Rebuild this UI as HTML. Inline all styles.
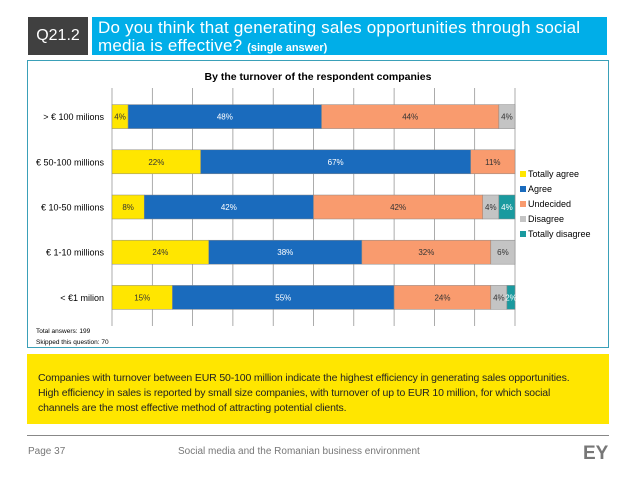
<!DOCTYPE html>
<html><head><meta charset="utf-8">
<style>
body{margin:0;width:638px;height:479px;background:#fff;font-family:"Liberation Sans",sans-serif;position:relative;overflow:hidden}
.abs{position:absolute}
</style></head>
<body>
<div class="abs" style="left:28px;top:17px;width:60px;height:38px;background:#404040;color:#fff;font-size:16px;line-height:38px;text-align:center">Q21.2</div>
<div class="abs" style="left:92px;top:17px;width:515px;height:38px;background:#00aee8;color:#fff;font-size:17px;line-height:18px;padding-left:6px;box-sizing:border-box;padding-top:2px;letter-spacing:0.2px">Do you think that generating sales opportunities through social media is effective? <b style="font-size:11px;letter-spacing:0">(single answer)</b></div>
<div class="abs" style="left:27px;top:60px;width:582px;height:288px;border:1px solid #3aa0b8;box-sizing:border-box"></div>
<svg class="abs" style="left:0;top:0" width="638" height="479" id="chart">
<text x="318" y="80" text-anchor="middle" font-size="10.5" font-weight="bold">By the turnover of the respondent companies</text>
<text x="36" y="333" font-size="6.5">Total answers: 199</text>
<text x="36" y="344" font-size="6.5">Skipped this question: 70</text>
</svg>
<div class="abs" style="left:27px;top:354px;width:582px;height:70px;background:#ffe600;font-size:10.5px;line-height:15px;padding:17px 0 0 11px;box-sizing:border-box;color:#222;letter-spacing:-0.15px">Companies with turnover between EUR 50-100 million indicate the highest efficiency in generating sales opportunities.<br>High efficiency in sales is reported by small size companies, with turnover of up to EUR 10 million, for which social<br>channels are the most effective method of attracting potential clients.</div>
<div class="abs" style="left:27px;top:435px;width:582px;height:1px;background:#888"></div>
<div class="abs" style="left:28px;top:446px;font-size:10px;color:#777">Page 37</div>
<div class="abs" style="left:178px;top:446px;font-size:10px;color:#777">Social media and the Romanian business environment</div>
<div class="abs" style="left:583px;top:443px;font-size:19px;font-weight:bold;color:#777">EY</div>
<script>
const categories=["> € 100 milions","€ 50-100 millions","€ 10-50 millions","€ 1-10 millions","< €1 milion"];
const seriesNames=["Totally agree","Agree","Undecided","Disagree","Totally disagree"];
const totallyAgree=[4,22,8,24,15];
const agree=[48,67,42,38,55];
const undecided=[44,11,42,32,24];
const disagree=[4,0,4,6,4];
const totallyDisagree=[0,0,4,0,2];
const series=[totallyAgree,agree,undecided,disagree,totallyDisagree];
const colors=["#ffe600","#1a6bbd","#f99b6e","#c4c4c4","#1a9a9f"];
const textColors=["#333","#fff","#333","#333","#fff"];
const svg=document.getElementById('chart');
const NS="http://www.w3.org/2000/svg";
const X0=112,X1=515,Y0=94,Y1=320;
const xs=v=>X0+(X1-X0)*v/100;
const band=(Y1-Y0)/categories.length;
const yc=i=>Y0+band*(i+0.5);
function mk(t,a){const e=document.createElementNS(NS,t);for(const k in a)e.setAttribute(k,a[k]);svg.appendChild(e);return e;}
for(let g=0;g<=10;g++){const l=mk('line',{x1:xs(g*10),x2:xs(g*10),y1:Y0-6,y2:Y1+6,stroke:'#888','stroke-width':0.7});

}
categories.forEach((c,i)=>{
 const t=mk('text',{x:X0-8,y:yc(i)+3.5,'text-anchor':'end','font-size':9});t.textContent=c;
 
 
 let acc=0;
 series.forEach((s,k)=>{const v=s[i];if(!v)return;
  const r=mk('rect',{x:xs(acc),y:yc(i)-12,width:xs(acc+v)-xs(acc),height:24,fill:colors[k],stroke:'#888','stroke-width':0.5});
  
  
  const lb=mk('text',{x:(xs(acc)+xs(acc+v))/2,y:yc(i)+3,'text-anchor':'middle','font-size':8,fill:textColors[k]});lb.textContent=v+'%';
  
  
  acc+=v;});
});
seriesNames.forEach((n,k)=>{const y=177+k*15;
 const r=mk('rect',{x:520,y:y-6,width:6,height:6,fill:colors[k]});
 
 
 const t=mk('text',{x:528,y:y,'font-size':9});t.textContent=n;
 
 });
</script>
</body></html>
